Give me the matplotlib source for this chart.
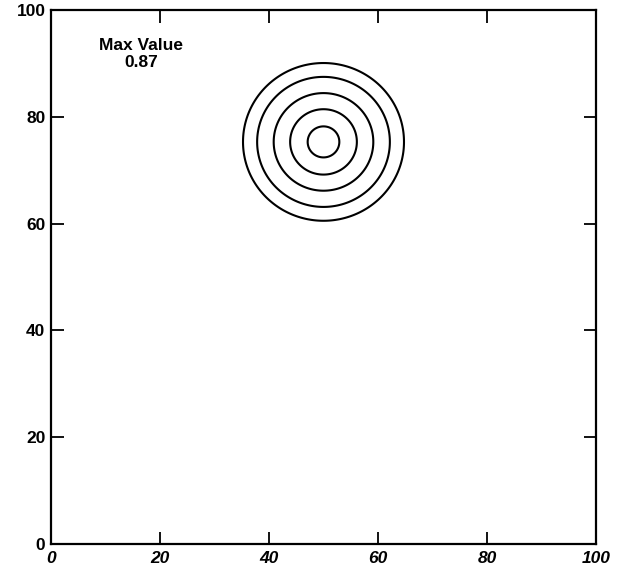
import matplotlib
matplotlib.use("Agg")
import matplotlib.pyplot as plt
import numpy as np

# peak of the field and where it sits
PEAK_VALUE = 0.87
PEAK_X = 50.0
PEAK_Y = 75.3
SPREAD = 7.1
CONTOUR_LEVELS = [0.1, 0.2, 0.38, 0.6, 0.8]
TICKS = [0, 20, 40, 60, 80, 100]

plt.rcParams["font.family"] = ["Liberation Sans", "DejaVu Sans"]

x = np.linspace(0, 100, 401)
y = np.linspace(0, 100, 401)
xx, yy = np.meshgrid(x, y)
field = PEAK_VALUE * np.exp(-((xx - PEAK_X) ** 2 + (yy - PEAK_Y) ** 2) / (2 * SPREAD ** 2))

fig = plt.figure(figsize=(6.19, 5.69), dpi=100)
ax = fig.add_axes([51 / 619, 25 / 569, 545 / 619, 534 / 569])
ax.contour(xx, yy, field, levels=CONTOUR_LEVELS, colors="black", linewidths=1.5)

ax.set_xlim(0, 100)
ax.set_ylim(0, 100)
ax.set_xticks(TICKS)
ax.set_yticks(TICKS)
ax.tick_params(direction="in", length=9, width=1.3, top=True, right=True,
               labelsize=12.5)
ax.tick_params(axis="x", pad=5)
ax.tick_params(axis="y", pad=4)
for lab in ax.get_xticklabels():
    lab.set_fontstyle("italic")
    lab.set_fontweight("bold")
for lab in ax.get_yticklabels():
    lab.set_fontweight("bold")
for spine in ax.spines.values():
    spine.set_linewidth(1.6)

ax.text(16.5, 91.8, f"Max Value\n{PEAK_VALUE:.2f}", ha="center", va="center",
        fontsize=12.5, fontweight="bold", linespacing=1.15)

fig.savefig("out.png", dpi=100)
